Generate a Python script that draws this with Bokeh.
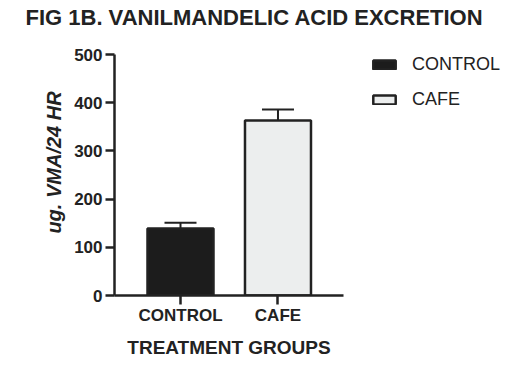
from bokeh.plotting import figure
from bokeh.models import Range1d, FixedTicker, Whisker, TeeHead, ColumnDataSource, Legend, LegendItem
from bokeh.embed import file_html
from bokeh.resources import INLINE

# ---- data ----
groups = ["CONTROL", "CAFE"]
means = [139, 363]
errors = [12, 23]
fills = ["#1c1c1c", "#eceeee"]
y_ticks = [0, 100, 200, 300, 400, 500]

title_text = "FIG 1B. VANILMANDELIC ACID EXCRETION"
y_label = "ug. VMA/24 HR"
x_label = "TREATMENT GROUPS"

FONT = "Liberation Sans"
INK = "#222222"

xpos = [1, 2]
src = ColumnDataSource(dict(
    x=xpos, top=means, upper=[m + e for m, e in zip(means, errors)],
    fill=fills, name=groups))

p = figure(frame_width=229, frame_height=266, output_backend="svg", toolbar_location=None,
           x_range=Range1d(0.323, 2.672), y_range=Range1d(0, 552),
           min_border_left=114, min_border_right=180, min_border_top=29, min_border_bottom=70)
p.outline_line_color = None
p.grid.visible = False
p.background_fill_color = "white"
p.border_fill_color = "white"

p.title.text = title_text
p.title.align = "left"
p.title.offset = -89
p.title.standoff = 0
p.title.text_font = FONT
p.title.text_font_style = "bold"
p.title.text_font_size = "22px"
p.title.text_color = INK

bars = p.vbar(x="x", top="top", width=0.677, bottom=0, source=src,
              fill_color="fill", line_color=INK, line_width=2.5)

w = Whisker(base="x", lower="top", upper="upper", source=src, dimension="height",
            line_color=INK, line_width=2,
            upper_head=TeeHead(size=32, line_color=INK, line_width=2), lower_head=None)
p.add_layout(w)

# axes
for ax in (p.xaxis, p.yaxis):
    ax.axis_line_color = INK
    ax.axis_line_width = 2.5
    ax.major_tick_line_color = INK
    ax.major_tick_line_width = 2.5
    ax.major_tick_in = 0
    ax.minor_tick_line_color = None
    ax.major_label_text_font = FONT
    ax.major_label_text_font_style = "bold"
    ax.major_label_text_font_size = "17px"
    ax.major_label_text_color = INK
    ax.axis_label_text_font = FONT
    ax.axis_label_text_color = INK

p.yaxis.ticker = FixedTicker(ticks=y_ticks)
p.yaxis.bounds = (0, 500)
p.yaxis.major_tick_out = 9
p.yaxis.major_label_standoff = 3
p.yaxis.axis_label = y_label
p.yaxis.axis_label_text_font_style = "bold italic"
p.yaxis.axis_label_text_font_size = "20px"
p.yaxis.axis_label_standoff = 6

p.xaxis.ticker = FixedTicker(ticks=xpos)
p.xaxis.major_label_overrides = {1: groups[0], 2: groups[1]}
p.xaxis.major_tick_out = 9
p.xaxis.major_label_standoff = 1
p.xaxis.axis_label = x_label
p.xaxis.axis_label_text_font_style = "bold"
p.xaxis.axis_label_text_font_size = "19px"
p.xaxis.axis_label_standoff = 9

# legend in right panel
items = [LegendItem(label=g, renderers=[bars], index=i) for i, g in enumerate(groups)]
leg = Legend(items=items, location=(27, 185), orientation="vertical",
             glyph_width=28, glyph_height=11, label_height=20, spacing=14,
             label_standoff=14, padding=0, margin=0,
             border_line_alpha=0, background_fill_alpha=0,
             label_text_font=FONT, label_text_font_size="18px", label_text_color=INK)
p.add_layout(leg, "right")

open("out.html", "w").write(file_html(p, INLINE))
